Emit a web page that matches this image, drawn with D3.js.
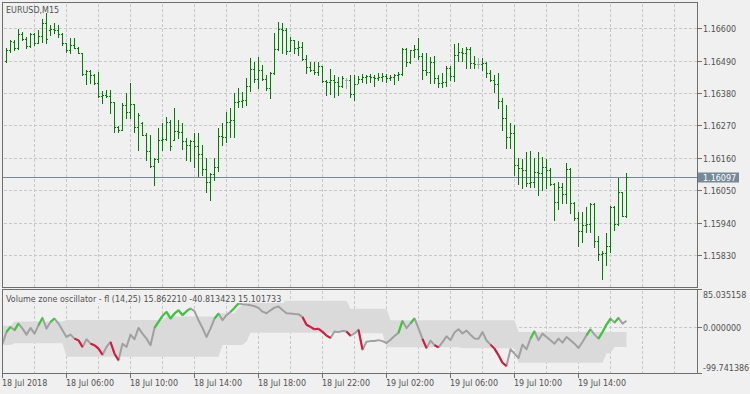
<!DOCTYPE html>
<html>
<head>
<meta charset="utf-8">
<script src="https://cdn.jsdelivr.net/npm/d3@7"></script>
<style>
  body { margin: 0; background: #f0f0f0; }
  svg { display: block; font-family: "DejaVu Sans", sans-serif; font-size: 8px; }
</style>
</head>
<body>
<div id="chart"></div>
<script>
// EURUSD M15 bars, first bar 18 Jul 2018 02:15
var symbolTitle = "EURUSD,M15";
var firstBar = new Date(2018, 6, 18, 2, 15);

var openP = [1.16489,1.16526,1.16554,1.16533,1.16581,1.16564,1.16540,1.16581,1.16550,1.16574,
  1.16618,1.16594,1.16598,1.16594,1.16581,1.16550,1.16526,1.16543,1.16533,1.16516,
  1.16445,1.16455,1.16442,1.16414,1.16370,1.16374,1.16370,1.16350,1.16265,1.16255,
  1.16340,1.16316,1.16343,1.16265,1.16279,1.16238,1.16184,1.16133,1.16157,1.16221,
  1.16225,1.16282,1.16221,1.16252,1.16248,1.16218,1.16204,1.16218,1.16201,1.16174,
  1.16123,1.16079,1.16106,1.16130,1.16235,1.16231,1.16282,1.16289,1.16350,1.16353,
  1.16357,1.16404,1.16462,1.16428,1.16459,1.16428,1.16398,1.16448,1.16530,1.16598,
  1.16594,1.16523,1.16560,1.16533,1.16537,1.16496,1.16469,1.16459,1.16452,1.16472,
  1.16421,1.16418,1.16425,1.16418,1.16404,1.16425,1.16425,1.16377,1.16411,1.16428,
  1.16435,1.16438,1.16435,1.16431,1.16435,1.16438,1.16431,1.16435,1.16442,1.16445,
  1.16530,1.16486,1.16526,1.16530,1.16506,1.16459,1.16452,1.16486,1.16431,1.16414,
  1.16418,1.16465,1.16438,1.16509,1.16520,1.16516,1.16530,1.16482,1.16479,1.16479,
  1.16482,1.16448,1.16425,1.16411,1.16353,1.16296,1.16231,1.16245,1.16136,1.16126,
  1.16119,1.16075,1.16079,1.16113,1.16109,1.16130,1.16119,1.16072,1.16011,1.16062,
  1.16038,1.16123,1.16007,1.15957,1.15912,1.15933,1.15936,1.16004,1.15879,1.15834,
  1.15838,1.15862,1.15994,1.15936,1.16045,1.15963];

var highP = [1.16533,1.16560,1.16560,1.16598,1.16587,1.16570,1.16584,1.16584,1.16594,1.16632,
  1.16652,1.16611,1.16618,1.16611,1.16584,1.16550,1.16567,1.16567,1.16537,1.16516,
  1.16459,1.16459,1.16445,1.16452,1.16387,1.16391,1.16391,1.16350,1.16269,1.16347,
  1.16381,1.16414,1.16343,1.16313,1.16282,1.16245,1.16238,1.16160,1.16262,1.16279,
  1.16299,1.16289,1.16330,1.16289,1.16279,1.16228,1.16221,1.16245,1.16245,1.16204,
  1.16160,1.16109,1.16160,1.16262,1.16279,1.16316,1.16330,1.16381,1.16398,1.16384,
  1.16431,1.16499,1.16486,1.16503,1.16475,1.16442,1.16452,1.16584,1.16621,1.16618,
  1.16601,1.16570,1.16560,1.16557,1.16554,1.16509,1.16486,1.16486,1.16486,1.16472,
  1.16425,1.16462,1.16442,1.16435,1.16438,1.16431,1.16442,1.16442,1.16438,1.16445,
  1.16442,1.16445,1.16442,1.16448,1.16448,1.16445,1.16442,1.16445,1.16452,1.16533,
  1.16533,1.16526,1.16543,1.16567,1.16516,1.16516,1.16503,1.16506,1.16442,1.16448,
  1.16472,1.16472,1.16547,1.16550,1.16533,1.16537,1.16537,1.16506,1.16499,1.16499,
  1.16486,1.16459,1.16442,1.16448,1.16364,1.16340,1.16279,1.16272,1.16160,1.16157,
  1.16180,1.16184,1.16160,1.16180,1.16163,1.16157,1.16126,1.16075,1.16079,1.16075,
  1.16143,1.16126,1.16011,1.15977,1.15977,1.15994,1.16007,1.16007,1.15896,1.15845,
  1.15906,1.15997,1.15997,1.16092,1.16045,1.16109];

var lowP = [1.16486,1.16520,1.16526,1.16530,1.16560,1.16533,1.16537,1.16543,1.16550,1.16554,
  1.16550,1.16577,1.16584,1.16570,1.16543,1.16520,1.16516,1.16533,1.16516,1.16442,
  1.16411,1.16414,1.16411,1.16367,1.16347,1.16367,1.16313,1.16248,1.16248,1.16255,
  1.16296,1.16296,1.16248,1.16187,1.16238,1.16153,1.16130,1.16069,1.16146,1.16187,
  1.16221,1.16187,1.16221,1.16228,1.16191,1.16153,1.16150,1.16130,1.16099,1.16102,
  1.16045,1.16018,1.16085,1.16116,1.16204,1.16214,1.16231,1.16231,1.16333,1.16333,
  1.16340,1.16387,1.16418,1.16398,1.16425,1.16391,1.16364,1.16445,1.16526,1.16516,
  1.16513,1.16523,1.16516,1.16509,1.16492,1.16448,1.16455,1.16445,1.16442,1.16418,
  1.16374,1.16377,1.16367,1.16374,1.16401,1.16398,1.16367,1.16357,1.16414,1.16418,
  1.16414,1.16418,1.16404,1.16425,1.16421,1.16418,1.16425,1.16411,1.16425,1.16442,
  1.16472,1.16482,1.16503,1.16496,1.16428,1.16442,1.16414,1.16414,1.16401,1.16401,
  1.16404,1.16425,1.16421,1.16489,1.16489,1.16465,1.16465,1.16465,1.16465,1.16459,
  1.16435,1.16421,1.16384,1.16330,1.16255,1.16194,1.16194,1.16102,1.16072,1.16058,
  1.16065,1.16062,1.16062,1.16035,1.16052,1.16058,1.16069,1.15950,1.15987,1.16007,
  1.16007,1.15974,1.15950,1.15862,1.15875,1.15909,1.15909,1.15858,1.15814,1.15750,
  1.15797,1.15841,1.15916,1.15933,1.15963,1.15960];

var closeP = [1.16526,1.16557,1.16533,1.16581,1.16564,1.16540,1.16581,1.16550,1.16574,1.16618,
  1.16564,1.16598,1.16594,1.16581,1.16550,1.16526,1.16543,1.16533,1.16516,1.16445,
  1.16455,1.16442,1.16414,1.16370,1.16374,1.16370,1.16350,1.16265,1.16255,1.16340,
  1.16316,1.16343,1.16265,1.16306,1.16238,1.16184,1.16133,1.16157,1.16221,1.16225,
  1.16282,1.16201,1.16252,1.16248,1.16218,1.16204,1.16218,1.16201,1.16174,1.16123,
  1.16079,1.16106,1.16130,1.16235,1.16231,1.16282,1.16289,1.16350,1.16353,1.16357,
  1.16404,1.16462,1.16428,1.16459,1.16428,1.16398,1.16448,1.16530,1.16598,1.16594,
  1.16523,1.16560,1.16533,1.16537,1.16496,1.16469,1.16459,1.16452,1.16472,1.16421,
  1.16418,1.16425,1.16418,1.16404,1.16431,1.16425,1.16377,1.16411,1.16428,1.16435,
  1.16438,1.16435,1.16431,1.16435,1.16438,1.16431,1.16435,1.16442,1.16445,1.16530,
  1.16486,1.16526,1.16530,1.16506,1.16459,1.16452,1.16486,1.16431,1.16414,1.16418,
  1.16465,1.16438,1.16509,1.16520,1.16516,1.16530,1.16482,1.16479,1.16479,1.16482,
  1.16448,1.16425,1.16411,1.16353,1.16296,1.16231,1.16245,1.16136,1.16126,1.16119,
  1.16075,1.16079,1.16113,1.16109,1.16130,1.16119,1.16072,1.16011,1.16062,1.16038,
  1.16123,1.16007,1.15957,1.15912,1.15933,1.15936,1.16004,1.15879,1.15834,1.15838,
  1.15862,1.15994,1.15936,1.16045,1.15963,1.16097];

var priceTicks = [1.15830, 1.15940, 1.16050, 1.16160, 1.16270, 1.16380, 1.16490, 1.16600];
var lastPrice = 1.16097;

// oscillator, first value belongs to the 02:00 bar at the left edge
var oscFirst = new Date(2018, 6, 18, 2, 0);
var vzo = [-34.7,
  -8.9, 2.2, -5.2, 9.6, -1.5, -14.8, 0.0, -12.6, 5.9, 22.2,
  -1.5, 13.3, 20.7, 9.6, -5.2, -20.0, -14.8, -23.7, -27.4, -42.1,
  -25.1, -34.8, -38.4, -45.8, -59.2, -42.1, -31.1, -56.9, -71.7, -34.8,
  -42.1, -14.8, -25.1, 0.0, -12.6, -23.7, -38.4, 0.0, 13.3, 26.6,
  35.5, 20.7, 31.8, 39.2, 28.1, 37.0, 42.9, 37.0, 17.0, 0.0,
  -20.0, -1.5, 20.7, 31.8, 17.0, 28.1, 35.5, 44.4, 54.0, 52.5,
  51.8, 50.3, 48.0, 44.4, 36.0, 32.5, 39.0, 45.0, 47.5, 39.5,
  32.5, 32.0, 31.0, 30.5, 24.0, 7.0, 2.5, -3.0, -2.0, -8.5,
  -17.0, -22.0, -8.0, -9.3, -6.5, -7.8, -17.3, -12.2, -3.7, -48.0,
  -30.7, -29.2, -28.8, -27.0, -29.2, -33.3, -26.0, -17.8, -11.0, 15.5,
  -0.4, 10.0, 21.0, -1.1, -24.0, -44.7, -28.1, -38.0, -42.8, -31.5,
  -18.5, -27.0, -10.3, -3.0, -12.2, -6.0, -15.1, -23.3, -24.0, -9.3,
  -27.7, -37.0, -45.8, -60.6, -76.9, -84.3, -47.3, -56.9, -66.5, -37.0,
  -47.3, -23.7, -7.4, -27.4, -12.6, -20.0, -27.4, -34.8, -23.7, -32.5,
  -20.0, -27.4, -34.8, -44.4, -31.1, -16.3, -3.0, -14.8, -23.7, -8.9,
  7.4, 20.7, 11.8, 22.2, 9.6, 15.86];

// 1 = above upper level (green), -1 = below lower level (red), 0 = neutral
var vzoState = [0,
  0, 1, 0, 1, 0, 0, 0, 0, 0, 1,
  0, 0, 1, 0, 0, 0, 0, 0, -1, -1,
  0, 0, -1, -1, -1, 0, 0, -1, -1, 0,
  0, 0, 0, 0, 0, 0, 0, 0, 1, 1,
  1, 1, 1, 1, 1, 1, 1, 0, 0, 0,
  0, 0, 0, 1, 0, 0, 0, 1, 1, 0,
  0, 0, 0, 0, 0, 0, 0, 0, 0, 0,
  0, 0, 0, 0, 0, -1, -1, -1, -1, -1,
  -1, -1, 0, 0, 0, 0, -1, 0, 0, -1,
  0, 0, 0, 0, 0, 0, 0, 0, 0, 1,
  0, 0, 1, 0, 0, -1, 0, 0, -1, 0,
  0, 0, 0, 0, 0, 0, 0, 0, 0, 0,
  0, 0, -1, -1, -1, -1, 0, 0, 0, 0,
  0, 0, 1, 0, 0, 0, 0, 0, 0, 0,
  0, 0, 0, 0, 0, 0, 1, 0, 0, 1,
  1, 1, 0, 1, 0, 0];

var levelUp = [5.0,
  5.0, 5.0, 14.0, 14.0, 14.0, 14.0, 14.0, 14.0, 14.0, 14.0,
  14.0, 14.0, 14.0, 14.0, 14.0, 17.6, 17.6, 17.6, 17.6, 17.6,
  17.6, 17.6, 17.6, 17.6, 17.6, 17.6, 17.6, 17.6, 17.6, 17.6,
  17.6, 17.6, 17.6, 17.6, 17.6, 17.6, 17.6, 17.6, 17.6, 17.6,
  25.1, 25.1, 25.1, 25.1, 25.1, 25.1, 25.1, 25.1, 25.1, 25.1,
  25.1, 25.1, 25.1, 32.5, 32.5, 32.5, 32.5, 32.5, 43.6, 50.9,
  50.9, 60.2, 60.2, 60.2, 60.2, 60.2, 60.2, 60.2, 60.2, 60.2,
  60.2, 60.2, 60.2, 60.2, 60.2, 60.2, 60.2, 60.2, 60.2, 60.2,
  60.2, 60.2, 60.2, 60.2, 60.2, 60.2, 42.5, 42.5, 42.5, 42.5,
  42.5, 42.5, 42.5, 42.5, 42.5, 42.5, 16.9, 16.9, 16.9, 16.9,
  16.9, 16.9, 16.9, 16.9, 16.9, 16.9, 16.9, 16.9, 16.9, 16.9,
  16.9, 16.9, 16.9, 16.9, 16.9, 16.9, 16.9, 16.9, 16.9, 16.9,
  16.9, 16.9, 16.9, 16.9, 16.9, 16.9, 16.9, 16.9, -9.0, -9.0,
  -9.0, -9.0, -9.0, -9.0, -9.0, -9.0, -9.0, -9.0, -9.0, -9.0,
  -9.0, -9.0, -9.0, -9.0, -9.0, -9.0, -9.0, -9.0, -9.0, -9.0,
  -9.0, -9.0, -9.0, -9.0, -9.0, -9.0];

var levelDown = [-37.8,
  -37.8, -37.8, -34.1, -34.1, -34.1, -34.1, -34.1, -34.1, -34.1, -34.1,
  -34.1, -34.1, -34.1, -34.1, -34.1, -63.6, -63.6, -63.6, -63.6, -63.6,
  -63.6, -63.6, -63.6, -63.6, -63.6, -63.6, -63.6, -63.6, -63.6, -63.6,
  -63.6, -63.6, -63.6, -63.6, -63.6, -63.6, -63.6, -63.6, -63.6, -63.6,
  -63.6, -63.6, -63.6, -63.6, -63.6, -63.6, -63.6, -63.6, -63.6, -63.6,
  -63.6, -63.6, -63.6, -63.6, -37.8, -37.8, -37.8, -37.8, -37.8, -37.8,
  -30.3, -10.8, -10.8, -10.8, -10.8, -10.8, -10.8, -10.8, -10.8, -10.8,
  -10.8, -10.8, -10.8, -10.8, -10.8, -10.8, -10.8, -10.8, -10.8, -10.8,
  -10.8, -10.8, -10.8, -10.8, -10.8, -10.8, -10.8, -11.9, -11.9, -11.9,
  -11.9, -11.9, -11.9, -11.9, -11.9, -43.0, -43.0, -43.0, -43.0, -43.0,
  -43.0, -43.0, -43.0, -43.0, -43.0, -43.0, -43.0, -43.0, -43.0, -43.0,
  -43.0, -43.0, -43.0, -43.0, -45.2, -45.2, -45.2, -45.2, -45.2, -45.2,
  -45.2, -45.2, -45.2, -45.2, -45.2, -45.2, -45.2, -45.2, -76.9, -76.9,
  -76.9, -76.9, -76.9, -76.9, -76.9, -76.9, -76.9, -76.9, -76.9, -76.9,
  -76.9, -76.9, -76.9, -76.9, -76.9, -76.9, -76.9, -76.9, -76.9, -76.9,
  -56.3, -56.3, -42.3, -42.3, -42.3, -42.3];

var oscTitle = "Volume zone oscillator - fl (14,25) 15.862210 -40.813423 15.101733";
var oscMax = 85.035158, oscMin = -99.741386;
var oscTickLabels = ["85.035158", "0.000000", "-99.741386"];

// ---- layout
var svgWidth = 750, svgHeight = 394;
var panelLeft = 2.5, panelRight = 697.5;
var mainTop = 2.5, mainBottom = 287.5;
var subTop = 289.5, subBottom = 373.5;

var textColor = "#505050", frameColor = "#6e6e6e", gridColor = "#c8c8c8";
var barColor = "#008000", dojiColor = "#a9a9a9";

var svg = d3.select("#chart").append("svg")
  .attr("width", svgWidth)
  .attr("height", svgHeight);

svg.append("rect").attr("width", svgWidth).attr("height", svgHeight).attr("fill", "#f0f0f0");

var defs = svg.append("defs");
defs.append("clipPath").attr("id", "clipMain").append("rect")
  .attr("x", panelLeft).attr("y", mainTop).attr("width", panelRight - panelLeft).attr("height", mainBottom - mainTop);
defs.append("clipPath").attr("id", "clipSub").append("rect")
  .attr("x", panelLeft).attr("y", subTop).attr("width", panelRight - panelLeft).attr("height", subBottom - subTop);

// time scale: 4 px per M15 bar
var xScale = d3.scaleTime()
  .domain([new Date(2018, 6, 18, 2, 0), new Date(2018, 6, 19, 22, 0)])
  .range([2.5, 706.5]);

var bars = openP.map(function(o, i) {
  return { t: d3.timeMinute.offset(firstBar, 15 * i), o: o, h: highP[i], l: lowP[i], c: closeP[i] };
});
var osc = vzo.map(function(v, i) {
  return { t: d3.timeMinute.offset(oscFirst, 15 * i), v: v, s: vzoState[i], up: levelUp[i], dn: levelDown[i] };
});
var lastBarTime = bars[bars.length - 1].t;

var yPrice = d3.scaleLinear().domain([1.15830, 1.16600]).range([255.8, 28.6]);
var yOsc = d3.scaleLinear().domain([oscMin, oscMax]).range([subBottom - 0.5, subTop]);

function crisp(v) { return Math.floor(v) + 0.5; }

// ---- grid
var gridTimes = xScale.ticks(d3.timeHour.every(2)).filter(function(t) {
  var x = xScale(t); return x > panelLeft + 1 && x < panelRight - 1;
});

var grid = svg.append("g").attr("stroke", gridColor).attr("stroke-dasharray", "3,2").attr("shape-rendering", "crispEdges");
priceTicks.forEach(function(p) {
  grid.append("line")
    .attr("x1", panelLeft + 1).attr("x2", panelRight)
    .attr("y1", crisp(yPrice(p))).attr("y2", crisp(yPrice(p)));
});

// oscillator band under the grid
var subG = svg.append("g").attr("clip-path", "url(#clipSub)");
subG.append("path")
  .datum(osc)
  .attr("fill", "#dadada")
  .attr("d", d3.area()
    .x(function(d) { return xScale(d.t); })
    .y0(function(d) { return yOsc(d.dn); })
    .y1(function(d) { return yOsc(d.up); }));

gridTimes.forEach(function(t) {
  var x = xScale(t);
  grid.append("line").attr("x1", x).attr("x2", x).attr("y1", mainTop + 1).attr("y2", mainBottom);
  grid.append("line").attr("x1", x).attr("x2", x).attr("y1", subTop + 1).attr("y2", subBottom);
});
grid.append("line")
  .attr("x1", panelLeft + 1).attr("x2", panelRight)
  .attr("y1", crisp(yOsc(0))).attr("y2", crisp(yOsc(0)));
svg.node().appendChild(grid.node());
svg.node().appendChild(subG.node());

// ---- price line
svg.append("line")
  .attr("x1", panelLeft).attr("x2", panelRight)
  .attr("y1", crisp(yPrice(lastPrice))).attr("y2", crisp(yPrice(lastPrice)))
  .attr("stroke", "#778899").attr("shape-rendering", "crispEdges");

// ---- OHLC bars
var mainG = svg.append("g").attr("clip-path", "url(#clipMain)").attr("shape-rendering", "crispEdges");
var barG = mainG.selectAll("g.bar").data(bars).enter().append("g")
  .attr("stroke", function(d) { return d.o === d.c ? dojiColor : barColor; });
barG.append("line")
  .attr("x1", function(d) { return xScale(d.t); })
  .attr("x2", function(d) { return xScale(d.t); })
  .attr("y1", function(d) { return Math.floor(yPrice(d.h)); })
  .attr("y2", function(d) { return Math.floor(yPrice(d.l)) + 1; });
barG.append("line")
  .attr("x1", function(d) { return xScale(d.t) - 1.5; })
  .attr("x2", function(d) { return xScale(d.t) - 0.5; })
  .attr("y1", function(d) { return crisp(yPrice(d.o)); })
  .attr("y2", function(d) { return crisp(yPrice(d.o)); });
barG.append("line")
  .attr("x1", function(d) { return xScale(d.t) + 0.5; })
  .attr("x2", function(d) { return xScale(d.t) + 1.5; })
  .attr("y1", function(d) { return crisp(yPrice(d.c)); })
  .attr("y2", function(d) { return crisp(yPrice(d.c)); });

// ---- oscillator line, grey then coloured pieces
var oscLine = d3.line().x(function(d) { return xScale(d.t); }).y(function(d) { return yOsc(d.v); });
subG.append("path").datum(osc)
  .attr("fill", "none").attr("stroke", "#a0a0a0").attr("stroke-width", 2)
  .attr("stroke-linejoin", "round")
  .attr("d", oscLine);
osc.forEach(function(d, i) {
  if (i === 0 || d.s === 0) return;
  subG.append("path").datum([osc[i - 1], d])
    .attr("fill", "none")
    .attr("stroke", d.s > 0 ? "#32cd32" : "#dc143c")
    .attr("stroke-width", 2)
    .attr("d", oscLine);
});

// ---- frames
svg.append("rect").attr("x", panelLeft).attr("y", mainTop)
  .attr("width", panelRight - panelLeft).attr("height", mainBottom - mainTop)
  .attr("fill", "none").attr("stroke", frameColor).attr("shape-rendering", "crispEdges");
svg.append("rect").attr("x", panelLeft).attr("y", subTop)
  .attr("width", panelRight - panelLeft).attr("height", subBottom - subTop)
  .attr("fill", "none").attr("stroke", frameColor).attr("shape-rendering", "crispEdges");

// ---- right price axis
var axisG = svg.append("g").attr("fill", textColor);
priceTicks.forEach(function(p) {
  var y = crisp(yPrice(p));
  axisG.append("line").attr("x1", panelRight).attr("x2", panelRight + 4).attr("y1", y).attr("y2", y)
    .attr("stroke", frameColor).attr("shape-rendering", "crispEdges");
  axisG.append("text").attr("x", 703).attr("y", y + 3).text(p.toFixed(5));
});

// current price tag
var yLast = crisp(yPrice(lastPrice));
svg.append("rect").attr("x", 698).attr("y", yLast - 5).attr("width", 41).attr("height", 10).attr("fill", "#778899");
svg.append("text").attr("x", 703).attr("y", yLast + 3).attr("fill", "#ffffff").text(lastPrice.toFixed(5));

// oscillator axis labels
var oscLabelY = [yOsc(oscMax) + 5, yOsc(0), yOsc(oscMin) - 5];
var oscTickY = [subTop, crisp(yOsc(0)), subBottom];
oscTickLabels.forEach(function(s, i) {
  axisG.append("line").attr("x1", panelRight).attr("x2", panelRight + 4)
    .attr("y1", oscTickY[i]).attr("y2", oscTickY[i])
    .attr("stroke", frameColor).attr("shape-rendering", "crispEdges");
  axisG.append("text").attr("x", 703).attr("y", oscLabelY[i] + 3).text(s);
});

// ---- time axis, labels only where there are bars
var labelTimes = gridTimes.filter(function(t) {
  return (t.getHours() - 2) % 4 === 0 && t <= lastBarTime;
});
var fmt = d3.timeFormat("%d %b %H:%M");
var timeG = svg.append("g").attr("fill", textColor);
timeG.append("line").attr("x1", panelLeft).attr("x2", panelLeft).attr("y1", subBottom).attr("y2", subBottom + 4)
  .attr("stroke", frameColor).attr("shape-rendering", "crispEdges");
timeG.append("text").attr("x", 2).attr("y", 385.5).text(d3.timeFormat("%d %b %Y")(xScale.domain()[0]));
labelTimes.forEach(function(t) {
  var x = xScale(t);
  timeG.append("line").attr("x1", x).attr("x2", x).attr("y1", subBottom).attr("y2", subBottom + 4)
    .attr("stroke", frameColor).attr("shape-rendering", "crispEdges");
  timeG.append("text").attr("x", x - 0.5).attr("y", 385.5).text(fmt(t));
});

// ---- titles
svg.append("text").attr("x", 6).attr("y", 12.5).attr("fill", textColor).text(symbolTitle);
var oscHeadBg = svg.append("rect").attr("fill", "#f0f0f0");
var oscHead = svg.append("text").attr("x", 6).attr("y", 301.5).attr("fill", textColor).text(oscTitle);
var headLen = oscHead.node().getComputedTextLength();
oscHeadBg.attr("x", 3).attr("y", 290).attr("width", headLen + 6).attr("height", 13);
</script>
</body>
</html>
